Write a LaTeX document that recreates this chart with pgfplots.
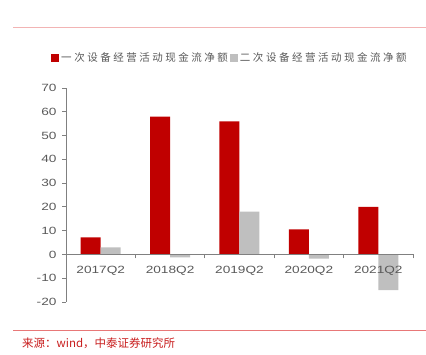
\documentclass[border=0pt]{standalone}
\usepackage{pgfplots}
\pgfplotsset{compat=1.18}
\usepackage{fontspec}
\setmainfont{Liberation Sans}
\newfontfamily\tickfont[FakeStretch=1.3]{Liberation Sans}
\newfontfamily\cjk{Noto Sans CJK SC}
\newfontfamily\cjkleg[LetterSpace=24]{Noto Sans CJK SC}
\definecolor{barred}{RGB}{192,0,0}
\definecolor{bargray}{RGB}{191,191,191}
\definecolor{txtgray}{RGB}{89,89,89}
\definecolor{axgray}{RGB}{128,128,128}
\definecolor{toppink}{RGB}{242,180,180}
\definecolor{botred}{RGB}{232,120,120}
\definecolor{srcred}{RGB}{200,30,30}
\begin{document}
\begin{tikzpicture}[x=1pt,y=1pt]
\useasboundingbox (0,0) rectangle (426,355);
\draw[toppink,line width=0.8pt] (13,328) -- (426,328);
\draw[botred,line width=0.8pt] (13,25) -- (426,25);
\node[anchor=west,text=srcred,font=\cjk\fontsize{11.5}{13}\selectfont,inner sep=0] at (22,12) {来源：wind，中泰证券研究所};
\begin{axis}[
  at={(66pt,53pt)}, anchor=south west,
  scale only axis, width=347pt, height=214pt,
  ymin=-20, ymax=70, xmin=-0.5, xmax=4.5,
  ytick={-20,-10,...,70},
  axis y line=left, axis x line=middle,
  axis line style={axgray, line width=0.8pt, -},
  axis on top,
  xtick={0,1,2,3,4},
  xticklabels={2017Q2,2018Q2,2019Q2,2020Q2,2021Q2},
  major x tick style={draw=none},
  minor xtick={-0.5,0.5,1.5,2.5,3.5,4.5},
  minor x tick style={axgray, line width=0.8pt},
  minor tick length=4pt,
  major tick length=4pt,
  y tick style={axgray, line width=0.8pt},
  tick align=outside,
  x tick label style={yshift=-4pt},
  y tick label style={xshift=-2pt},
  tick label style={text=txtgray, font=\tickfont\fontsize{10.5}{12}\selectfont},
  /pgf/number format/assume math mode=true,
  ybar, bar width=20pt,
  legend columns=2,
  legend style={at={(0.4726,1.140)}, anchor=center, draw=none, fill=none,
    font=\cjkleg\fontsize{10.5}{12}\selectfont, text=txtgray,
    /tikz/every even column/.append style={column sep=0pt},
    inner sep=0pt},
  legend image code/.code={\fill[#1] (0pt,-3.5pt) rectangle (8pt,4pt);},
  clip=false,
]
\addplot[fill=barred, draw=none, bar shift=-10pt] coordinates {(0,7.2) (1,58) (2,56) (3,10.5) (4,20)};
\addlegendentry{一次设备经营活动现金流净额}
\addplot[fill=bargray, draw=none, bar shift=10pt] coordinates {(0,3) (1,-1.2) (2,18) (3,-1.8) (4,-15)};
\addlegendentry{二次设备经营活动现金流净额}
\end{axis}
\end{tikzpicture}
\end{document}
